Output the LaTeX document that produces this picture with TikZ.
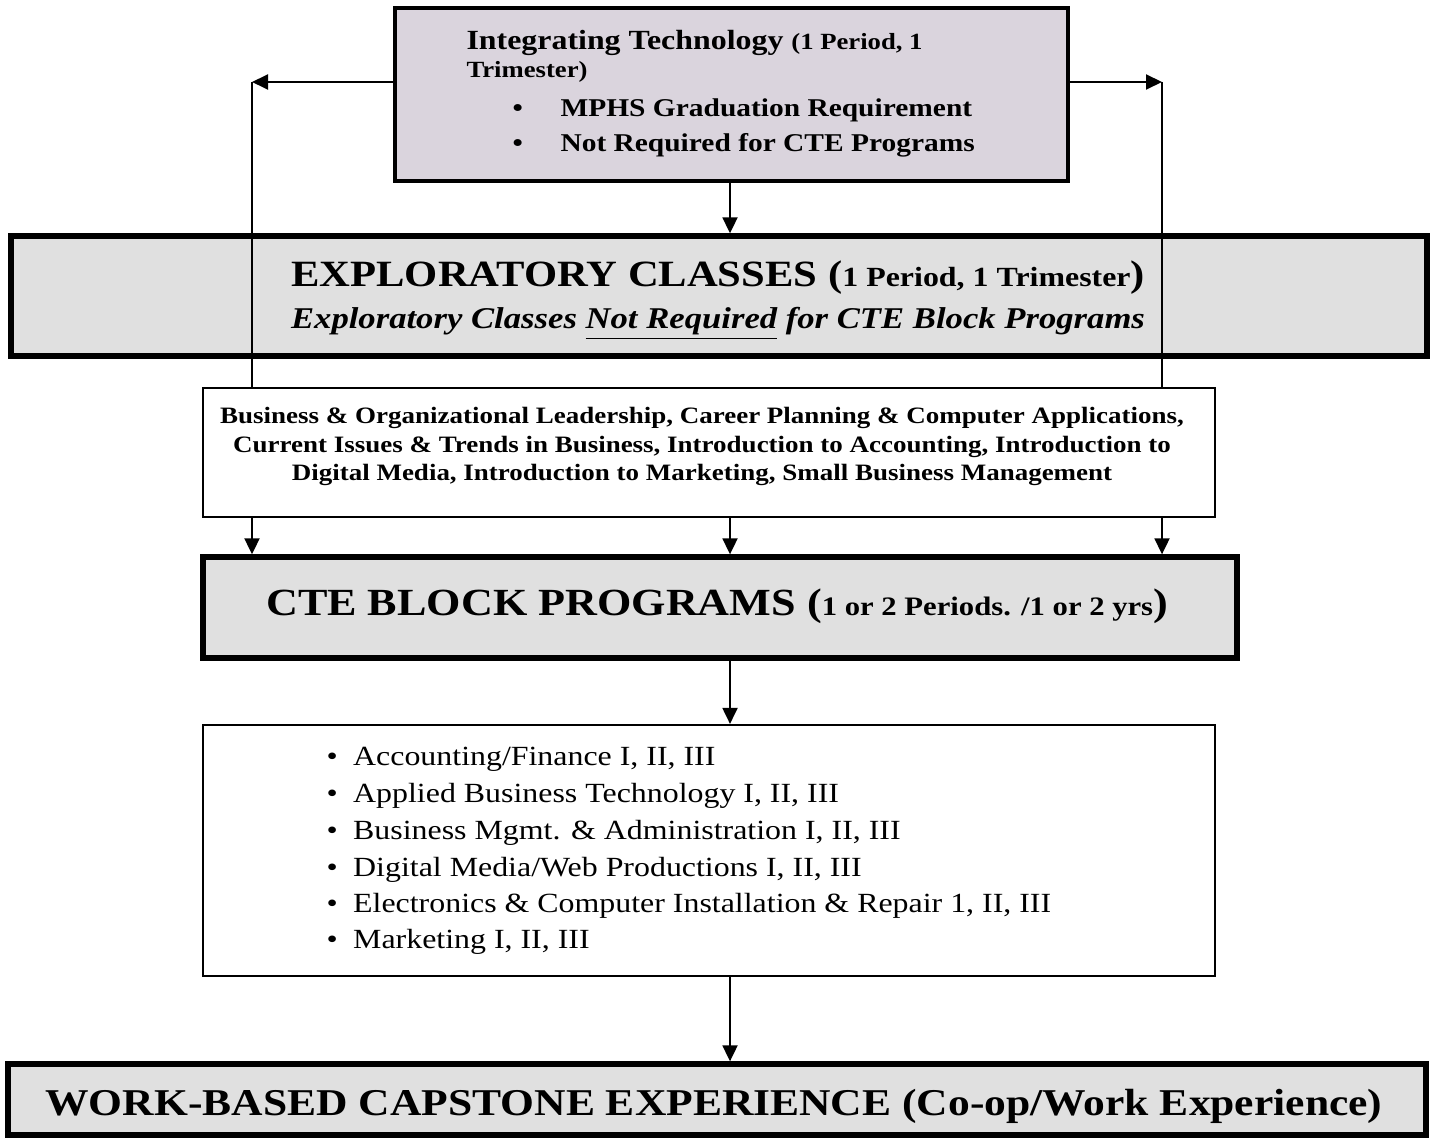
\documentclass[tikz,border=0pt]{standalone}
\usepackage{fontspec}
\setmainfont{Liberation Serif}[FakeStretch=1.15]
\usetikzlibrary{arrows.meta}

\definecolor{lilacgray}{RGB}{218,212,221}
\definecolor{panelgray}{RGB}{224,224,224}
\newcommand{\pxl}{0.375pt}

\tikzset{
  heavybox/.style={draw, line width=2pt, fill=panelgray, inner sep=0pt},
  lightbox/.style={draw, line width=0.8pt, fill=white, inner sep=0pt},
  label/.style={inner sep=0pt, font=\bfseries},
  link/.style={line width=0.8pt, -{Triangle[length=6pt,width=5.6pt]}},
}

\begin{document}
\begin{tikzpicture}[x=0.375pt,y=-0.375pt]
\useasboundingbox (0,0) rectangle (1432,1137);

% boxes
\node[draw, line width=1.5pt, fill=lilacgray, inner sep=0pt, minimum width=673*\pxl, minimum height=173*\pxl] (integ) at (731.5,94.5) {};
\node[heavybox, minimum width=1416*\pxl, minimum height=120*\pxl] (explor) at (719,296) {};
\node[lightbox, minimum width=1012*\pxl, minimum height=129*\pxl] (busi) at (709,452.5) {};
\node[heavybox, minimum width=1034*\pxl, minimum height=101*\pxl] (cte) at (720,607.5) {};
\node[lightbox, minimum width=1012*\pxl, minimum height=251*\pxl] (list) at (709,850.5) {};
\node[heavybox, minimum width=1418*\pxl, minimum height=71*\pxl] (capst) at (717,1099.5) {};

% texts
\node[label, anchor=base west] (intega) at (466,50)
  {\fontsize{10.4}{12}\selectfont Integrating Technology \fontsize{8.7}{10}\selectfont(1 Period, 1};
\node[label, anchor=base west] (integb) at (466,78) {\fontsize{8.7}{10}\selectfont Trimester)};
\node[label, anchor=base west] (integc) at (512,117)
  {\fontsize{9.6}{11}\selectfont\makebox[18pt][l]{\textbullet}MPHS Graduation Requirement};
\node[label, anchor=base west] (integd) at (512,152)
  {\fontsize{9.6}{11}\selectfont\makebox[18pt][l]{\textbullet}Not Required for CTE Programs};

\node[label, anchor=base] (explora) at (718,287)
  {\fontsize{13.9}{16}\selectfont EXPLORATORY CLASSES (\fontsize{10.4}{12}\selectfont 1 Period, 1 Trimester\fontsize{13.9}{16}\selectfont)};
\node[label, anchor=base] (explorb) at (718,328)
  {\fontsize{11.3}{13}\selectfont\itshape Exploratory Classes \underline{Not Required} for CTE Block Programs};

\node[label, anchor=base] (busia) at (702,423)
  {\fontsize{8.8}{10}\selectfont Business \& Organizational Leadership, Career Planning \& Computer Applications,};
\node[label, anchor=base] (busib) at (702,452)
  {\fontsize{8.8}{10}\selectfont Current Issues \& Trends in Business, Introduction to Accounting, Introduction to};
\node[label, anchor=base] (busic) at (702,480)
  {\fontsize{8.8}{10}\selectfont Digital Media, Introduction to Marketing, Small Business Management};

\node[label, anchor=base] (ctea) at (717,615)
  {\fontsize{14.4}{16}\selectfont CTE BLOCK PROGRAMS (\fontsize{10}{12}\selectfont 1 or 2 Periods. /1 or 2 yrs\fontsize{14.4}{16}\selectfont)};

\node[inner sep=0pt, anchor=base west] (lista) at (326,765) {\fontsize{10.4}{12}\selectfont\makebox[10pt][l]{\textbullet}Accounting/Finance I, II, III};
\node[inner sep=0pt, anchor=base west] (listb) at (326,802) {\fontsize{10.4}{12}\selectfont\makebox[10pt][l]{\textbullet}Applied Business Technology I, II, III};
\node[inner sep=0pt, anchor=base west] (listc) at (326,839) {\fontsize{10.4}{12}\selectfont\makebox[10pt][l]{\textbullet}Business Mgmt. \& Administration I, II, III};
\node[inner sep=0pt, anchor=base west] (listd) at (326,876) {\fontsize{10.4}{12}\selectfont\makebox[10pt][l]{\textbullet}Digital Media/Web Productions I, II, III};
\node[inner sep=0pt, anchor=base west] (liste) at (326,912) {\fontsize{10.4}{12}\selectfont\makebox[10pt][l]{\textbullet}Electronics \& Computer Installation \& Repair 1, II, III};
\node[inner sep=0pt, anchor=base west] (listf) at (326,948) {\fontsize{10.4}{12}\selectfont\makebox[10pt][l]{\textbullet}Marketing I, II, III};

\node[label, anchor=base] (capsta) at (714,1115)
  {\fontsize{14.2}{16}\selectfont WORK-BASED CAPSTONE EXPERIENCE (Co-op/Work Experience)};

\coordinate (lturn) at (252,82);
\coordinate (rturn) at (1162,82);
\coordinate (spine) at (730,0);

% side routes
\draw[link] (integ.west |- lturn) -- (lturn);
\draw[link] (integ.east |- rturn) -- (rturn);
\draw[line width=0.8pt] (lturn) -- (lturn |- busi.north);
\draw[line width=0.8pt] (rturn) -- (rturn |- busi.north);

% down arrows
\draw[link] (integ.south -| spine) -- (explor.north -| spine);
\draw[link] (busi.south -| lturn) -- (cte.north -| lturn);
\draw[link] (busi.south -| spine) -- (cte.north -| spine);
\draw[link] (busi.south -| rturn) -- (cte.north -| rturn);
\draw[link] (cte.south -| spine) -- (list.north -| spine);
\draw[link] (list.south -| spine) -- (capst.north -| spine);
\end{tikzpicture}
\end{document}
